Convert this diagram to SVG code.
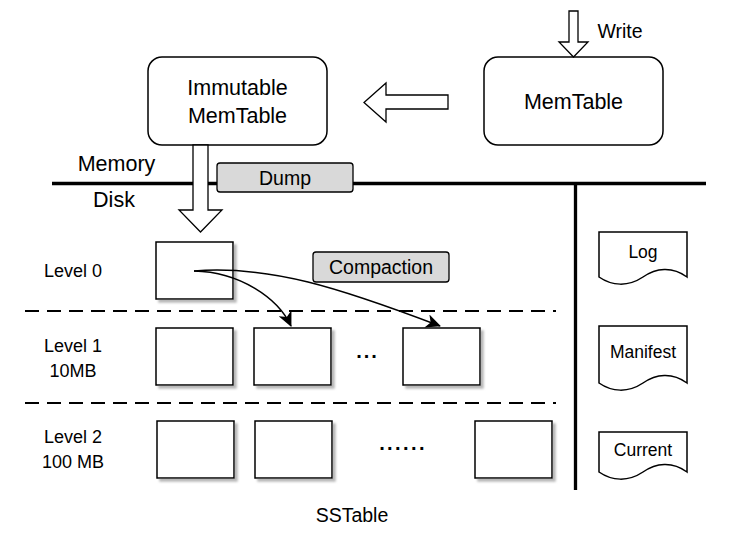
<svg xmlns="http://www.w3.org/2000/svg" width="744" height="534" viewBox="0 0 744 534">
<style>
text{font-family:"Liberation Sans",Arial,sans-serif;fill:#000;text-anchor:middle}
.big{font-size:21.5px}
.mid{font-size:19.5px}
.lvl{font-size:18px}
.doc{font-size:17.5px}
.rbox{fill:#fff;stroke:#000;stroke-width:1.5}
.gbox{fill:#d9d9d9;stroke:#000;stroke-width:1.3}
.ss{fill:#fff;stroke:#000;stroke-width:1.5;filter:url(#sh)}
.harrow{fill:#fff;stroke:#000;stroke-width:1.3}
.dash{stroke:#000;stroke-width:2;stroke-dasharray:14 8;fill:none}
.thick{stroke:#000;stroke-width:3.3;fill:none}
.curve{stroke:#000;stroke-width:1.5;fill:none;marker-end:url(#ah)}
.dots{font-size:20px;font-weight:bold}
</style>
<defs>
<filter id="sh" x="-10%" y="-10%" width="130%" height="130%">
<feDropShadow dx="3" dy="3" stdDeviation="1" flood-color="#888" flood-opacity="0.6"/>
</filter>
<marker id="ah" markerWidth="16" markerHeight="14" refX="14" refY="7" orient="auto" markerUnits="userSpaceOnUse">
<path d="M0,0 L15,7 L0,14 L4,7 Z" fill="#000"/>
</marker>
</defs>
<rect width="744" height="534" fill="#fff"/>

<g id="dividers">
<line class="thick" x1="52" y1="183.5" x2="706" y2="183.5"/>
<line class="thick" x1="575.5" y1="183.5" x2="575.5" y2="490"/>
<line class="dash" x1="25" y1="311" x2="556" y2="311"/>
<line class="dash" x1="25" y1="403" x2="556" y2="403"/>
</g>

<g id="labels">
<text class="big" x="116.5" y="171">Memory</text>
<text class="big" x="114" y="207">Disk</text>
<text class="lvl" x="73" y="277">Level 0</text>
<text class="lvl" x="73" y="352">Level 1</text>
<text class="lvl" x="73" y="377">10MB</text>
<text class="lvl" x="73" y="443">Level 2</text>
<text class="lvl" x="73" y="468">100 MB</text>
<text class="mid" x="352" y="522">SSTable</text>
<text class="mid" x="620" y="38">Write</text>
</g>

<g id="immutable">
<rect class="rbox" x="148" y="57" width="179" height="88" rx="14"/>
<text class="big" x="237.5" y="95">Immutable</text>
<text class="big" x="237.5" y="123">MemTable</text>
</g>

<g id="memtable">
<rect class="rbox" x="484" y="57" width="179" height="88" rx="14"/>
<text class="big" x="573.5" y="109">MemTable</text>
</g>

<g id="dump">
<rect class="gbox" x="217" y="163" width="136" height="29" rx="3"/>
<text class="mid" x="285" y="185">Dump</text>
</g>

<g id="compaction">
<rect class="gbox" x="313" y="252" width="136" height="30" rx="3"/>
<text class="mid" x="381" y="274">Compaction</text>
</g>

<g id="level0">
<rect class="ss" x="156" y="242" width="77" height="57"/>
</g>

<g id="level1">
<rect class="ss" x="156" y="328" width="77" height="57"/>
<rect class="ss" x="254" y="328" width="77" height="57"/>
<text class="dots" x="367.5" y="358" letter-spacing="2">...</text>
<rect class="ss" x="403" y="328" width="77" height="57"/>
</g>

<g id="level2">
<rect class="ss" x="157" y="421" width="77" height="57"/>
<rect class="ss" x="255" y="421" width="77" height="57"/>
<text class="dots" x="403" y="450" letter-spacing="2.4">......</text>
<rect class="ss" x="475" y="421" width="77" height="57"/>
</g>

<g id="log">
<path class="rbox" d="M599,232 H687 V277 C672,266 656,268 643,277 C628,287 612,286 599,277 Z"/>
<text class="doc" x="643" y="258">Log</text>
</g>

<g id="manifest">
<path class="rbox" d="M599,326 H687 V383 C672,372 656,374 643,383 C628,393 612,392 599,383 Z"/>
<text class="doc" x="643" y="358">Manifest</text>
</g>

<g id="current">
<path class="rbox" d="M599,432 H687 V472 C672,461 656,463 643,472 C628,482 612,481 599,472 Z"/>
<text class="doc" x="643" y="456">Current</text>
</g>

<g id="connectors">
<path class="harrow" d="M569,11 H578 V42 H588 L573.5,57 L559,42 H569 Z"/>
<path class="harrow" d="M448,95 V109 H386 V122 L364,102.5 L386,83 V95 Z"/>
<path class="harrow" d="M193,145 H208 V210 H222 L200.5,232 L179,210 H193 Z"/>
<path class="curve" d="M194,271 C240,272 278,298 291,326"/>
<path class="curve" d="M194,271 C270,265 340,288 440,326"/>
</g>
</svg>
